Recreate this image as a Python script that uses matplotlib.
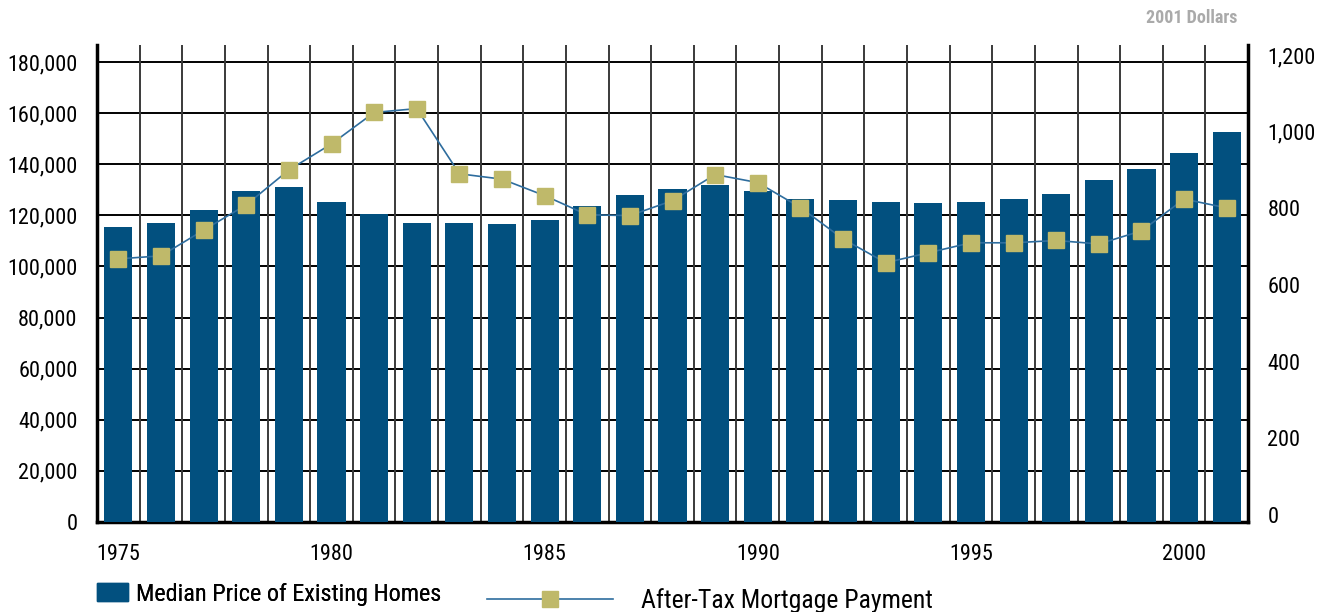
import numpy as np
import matplotlib.pyplot as plt
from matplotlib.lines import Line2D
from matplotlib.patches import Patch

plt.rcParams['font.family'] = ['Roboto Condensed', 'Archivo Narrow', 'DejaVu Sans']

years = np.arange(1975, 2002)
median_price = [115500, 117000, 122100, 129500, 131100, 125200, 120500, 117000,
                117000, 116600, 118200, 123700, 128000, 130300, 132000, 129500,
                126400, 126000, 125200, 124800, 125200, 126400, 128300, 133800,
                138100, 144400, 152600]
mortgage_payment = [668, 676, 743, 809, 900, 968, 1050, 1060, 890, 876, 833, 783,
                    781, 820, 888, 867, 802, 720, 658, 684, 710, 710, 716, 707,
                    741, 824, 801]
left_ticks = np.arange(0, 180001, 20000)
right_ticks = np.arange(0, 1201, 200)
year_ticks = [1975, 1980, 1985, 1990, 1995, 2000]

bar_color = '#02507f'
marker_color = '#bfb96a'
line_color = '#2e6d9e'

fig = plt.figure(figsize=(13.26, 6.12), dpi=100)
ax = fig.add_axes([0.0732, 0.1471, 0.8680, 0.7794])

ax.bar(years, median_price, width=0.66, color=bar_color, zorder=3)
ax.set_xlim(1974.5, 2001.5)
ax.set_ylim(0, 186650)
ax.set_yticks(left_ticks)
ax.set_yticklabels([f'{v:,}' for v in left_ticks])
ax.set_xticks(year_ticks)
ax.tick_params(axis='both', length=0, labelsize=16)
ax.tick_params(axis='y', pad=14)
ax.tick_params(axis='x', pad=16)

# grid: horizontal at each tick, vertical between the bars
for v in left_ticks:
    ax.axhline(v, color='black', lw=1.4, zorder=1)
for x in years[:-1] + 0.5:
    ax.axvline(x, color='#3a3a3a', lw=1.4, zorder=1)

for s in ['left', 'bottom', 'right']:
    ax.spines[s].set_linewidth(2.5)
ax.spines['top'].set_visible(False)

ax2 = ax.twinx()
ax2.plot(years, mortgage_payment, color=line_color, lw=1.2, marker='s',
         markersize=12, markerfacecolor=marker_color, markeredgecolor=marker_color,
         zorder=5)
ax2.set_ylim(-18.3, 1226)
ax2.set_yticks(right_ticks)
ax2.set_yticklabels([f'{v:,}' for v in right_ticks])
ax2.tick_params(axis='y', length=0, labelsize=16, pad=14)
for s in ['left', 'bottom', 'right', 'top']:
    ax2.spines[s].set_visible(False)

fig.text(0.933, 0.97, '2001 Dollars', ha='right', va='center', fontsize=13,
         color='#aaaaaa', fontweight='bold')

leg1 = fig.legend(handles=[Patch(color=bar_color)],
                  labels=['Median Price of Existing Homes'],
                  loc='center left', bbox_to_anchor=(0.0566, 0.029), frameon=False,
                  fontsize=17.5, handlelength=1.28, handleheight=0.74, handletextpad=0.33)
fig.add_artist(leg1)
fig.legend(handles=[Line2D([0], [0], color=line_color, lw=1.2, marker='s',
                           markersize=12, markerfacecolor=marker_color,
                           markeredgecolor=marker_color)],
           labels=['After-Tax Mortgage Payment'],
           loc='center left', bbox_to_anchor=(0.350, 0.019), frameon=False,
           fontsize=18.5, handlelength=4.9, handletextpad=1.09)

fig.savefig('out.png', dpi=100)
